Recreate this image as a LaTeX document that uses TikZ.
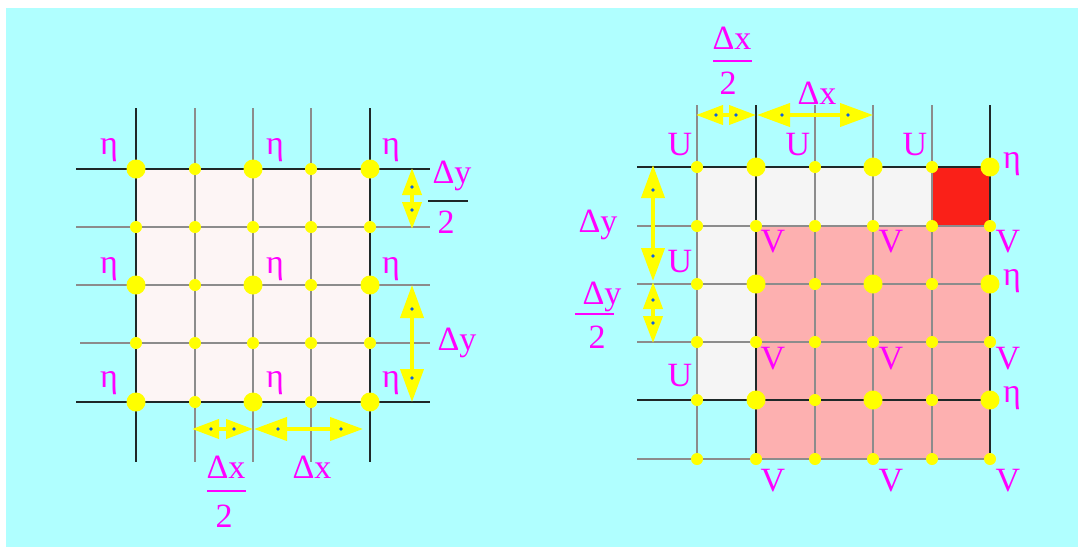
\documentclass[tikz,border=0pt]{standalone}
\usepackage{fontspec}
\setmainfont{Liberation Serif}
\usetikzlibrary{arrows.meta}
\definecolor{bgcyan}{HTML}{B0FFFF}
\definecolor{dotyellow}{HTML}{FFFF00}
\definecolor{lab}{HTML}{FF00FF}
\definecolor{gridgray}{HTML}{8C8C8C}
\definecolor{gridblack}{HTML}{1E2828}
\definecolor{cellpink}{HTML}{FDF5F5}
\definecolor{cellgray}{HTML}{F5F5F5}
\definecolor{cellrose}{HTML}{FDB0B0}
\definecolor{cellred}{HTML}{FA2018}
\definecolor{tipblue}{HTML}{1060E0}
\begin{document}
\begin{tikzpicture}[x=1pt,y=-1pt,
  gline/.style={draw=gridgray,line width=2pt},
  bline/.style={draw=gridblack,line width=2.2pt},
  bigdot/.style={circle,fill=dotyellow,inner sep=0pt,minimum size=19pt},
  smalldot/.style={circle,fill=dotyellow,inner sep=0pt,minimum size=12pt},
  lbl/.style={text=lab,font=\fontsize{34}{34}\selectfont,inner sep=0pt},
  fracbar/.style={draw=lab,line width=2pt},
  bigarrow/.style={draw=dotyellow,line width=4pt,
    {Triangle[length=33pt,width=23pt]}-{Triangle[length=33pt,width=23pt]}},
  smallarrow/.style={draw=dotyellow,line width=4pt,
    {Triangle[length=27pt,width=19pt]}-{Triangle[length=27pt,width=19pt]}},
  tipdot/.style={fill=tipblue}
]
\useasboundingbox (0,0) rectangle (1078,547);
\fill[white] (0,0) rectangle (1078,547);
\fill[bgcyan] (6,8) rectangle (1078,547);

% ---------------- left figure ----------------
\fill[cellpink] (136,169) rectangle (370,402);
\foreach \x in {195,253,311}{\draw[gline] (\x,108) -- (\x,462);}
\foreach \y in {227,285}{\draw[gline] (76,\y) -- (430,\y);}
\draw[gline] (80,343) -- (430,343);
\foreach \x in {136,370}{\draw[bline] (\x,108) -- (\x,462);}
\foreach \y in {169,402}{\draw[bline] (76,\y) -- (430,\y);}
\foreach \i/\x in {0/136,1/195,2/253,3/311,4/370}{
  \foreach \j/\y in {0/169,1/227,2/285,3/343,4/402}{
    \pgfmathtruncatemacro{\parsum}{mod(\i,2)+mod(\j,2)}
    \ifnum\parsum=0
      \node[bigdot] (L\i\j) at (\x,\y) {};
    \else
      \node[smalldot] (L\i\j) at (\x,\y) {};
    \fi
  }}

% left arrows
\coordinate (la1) at (192,429);
\coordinate (la2) at (253,429);
\coordinate (la3) at (254,429);
\coordinate (la4) at (363,429);
\draw[smallarrow] (la1) -- (la2);
\draw[bigarrow] (la3) -- (la4);
\coordinate (lb1) at (412,168);
\coordinate (lb2) at (412,229);
\coordinate (lb3) at (412,285);
\coordinate (lb4) at (412,402);
\draw[smallarrow] (lb1) -- (lb2);
\draw[bigarrow] (lb3) -- (lb4);
\foreach \p in {(211,429),(234,429),(278,429),(341,429),(412,187),(412,210),(412,309),(412,378)}
  {\fill[tipdot] \p circle (1.8);}

% left labels
\foreach \n/\x/\y in {a/109/150,b/275/150,c/391/150,d/109/269,e/275/269,f/391/269,g/109/383,h/275/383,k/391/383}
  {\node[lbl] (eta\n) at (\x,\y) {η};}
\node[lbl] (ldxn) at (226,467) {Δx};
\draw[fracbar] (207,491) -- (246,491);
\node[lbl] (ldxd) at (224,516) {2};
\node[lbl] (ldx) at (312,467) {Δx};
\node[lbl] (ldyn) at (452,176) {Δy};
\draw[draw=gridblack,line width=2pt] (428,201) -- (468,201);
\node[lbl] (ldyd) at (446,222) {2};
\node[lbl] (ldy) at (457,343) {Δy};

% ---------------- right figure ----------------
\fill[cellgray] (697,167) rectangle (990,226);
\fill[cellgray] (697,226) rectangle (756,400);
\fill[cellrose] (756,226) rectangle (990,459);
\fill[cellred] (932,167) rectangle (990,226);
\foreach \x in {697,815,873,932}{\draw[gline] (\x,105) -- (\x,459);}
\foreach \y in {226,284,342,459}{\draw[gline] (637,\y) -- (990,\y);}
\foreach \x in {756,990}{\draw[bline] (\x,105) -- (\x,459);}
\foreach \y in {167,400}{\draw[bline] (637,\y) -- (990,\y);}
\foreach \i/\x in {0/697,1/756,2/815,3/873,4/932,5/990}{
  \foreach \j/\y in {0/167,1/226,2/284,3/342,4/400,5/459}{
    \pgfmathtruncatemacro{\parsum}{(1-mod(\i,2))+mod(\j,2)}
    \ifnum\parsum=0
      \node[bigdot] (R\i\j) at (\x,\y) {};
    \else
      \node[smalldot] (R\i\j) at (\x,\y) {};
    \fi
  }}

% right arrows
\coordinate (ra1) at (696,115);
\coordinate (ra2) at (756,115);
\coordinate (ra3) at (757,115);
\coordinate (ra4) at (873,115);
\draw[smallarrow] (ra1) -- (ra2);
\draw[bigarrow] (ra3) -- (ra4);
\coordinate (rb1) at (653,165);
\coordinate (rb2) at (653,281);
\coordinate (rb3) at (653,282);
\coordinate (rb4) at (653,343);
\draw[bigarrow] (rb1) -- (rb2);
\draw[smallarrow] (rb3) -- (rb4);
\foreach \p in {(716,115),(736,115),(782,115),(848,115),(653,190),(653,256),(653,300),(653,323)}
  {\fill[tipdot] \p circle (1.8);}

% right labels
\node[lbl] (rdxn) at (732,38) {Δx};
\draw[fracbar] (713,61) -- (752,61);
\node[lbl] (rdxd) at (728,83) {2};
\node[lbl] (rdx) at (817,93) {Δx};
\node[lbl] (rdy) at (598,225) {Δy};
\node[lbl] (rdyn) at (602,297) {Δy};
\draw[fracbar] (575,314) -- (614,314);
\node[lbl] (rdyd) at (597,337) {2};
\foreach \n/\x/\y in {a/680/145,b/798/145,c/915/145,d/680/262,e/680/376}
  {\node[lbl] (U\n) at (\x,\y) {U};}
\foreach \n/\x in {a/773,b/891,c/1008}{
  \foreach \m/\y in {a/242,b/359,c/481}{
    \node[lbl] (V\n\m) at (\x,\y) {V};}}
\foreach \n/\y in {a/164,b/281,c/398}
  {\node[lbl] (reta\n) at (1012,\y) {η};}
\end{tikzpicture}
\end{document}
